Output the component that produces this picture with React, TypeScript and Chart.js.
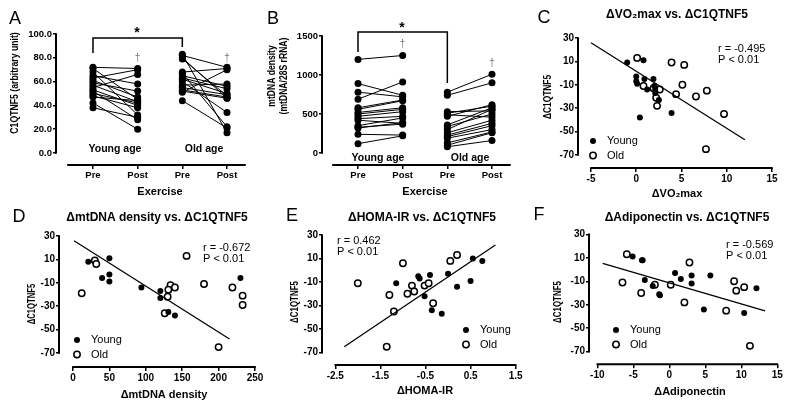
import React, { useEffect, useRef } from 'react';
import { Chart, registerables } from 'chart.js';
Chart.register(...registerables);

const FONT = "'Liberation Sans', Arial, Helvetica, sans-serif";

// ---------- Panel A: C1QTNF5 before / after exercise ----------
const exerciseLabels = ['Pre', 'Post', 'Pre', 'Post'];
const c1qTicks = [0, 20, 40, 60, 80, 100];
const c1qYoungPre = [72, 71, 68, 65, 63, 61, 59, 57, 55, 53, 52, 50, 48, 47, 42, 38];
const c1qYoungPost = [71, 45, 32, 58, 70, 47, 52, 43, 66, 40, 28, 42, 38, 44, 20, 30];
const c1qOldPre = [83, 82, 80, 79, 68, 67, 65, 63, 62, 60, 57, 55, 53, 52, 51, 44];
const c1qOldPost = [17, 72, 46, 48, 71, 22, 56, 54, 50, 34, 58, 49, 47, 46, 70, 21];

// ---------- Panel B: mtDNA density before / after exercise ----------
const mtTicks = [0, 500, 1000, 1500];
const mtYoungPre = [1200, 890, 780, 690, 580, 560, 520, 500, 470, 440, 420, 350, 330, 320, 240, 120];
const mtYoungPost = [1250, 740, 720, 910, 680, 670, 580, 560, 530, 470, 380, 450, 370, 390, 230, 220];
const mtOldPre = [780, 740, 530, 510, 490, 470, 360, 340, 300, 260, 230, 210, 190, 130, 100, 80];
const mtOldPost = [1010, 900, 540, 600, 460, 620, 580, 500, 560, 420, 380, 350, 300, 270, 260, 160];

// ---------- shared ΔC1QTNF5 axis ----------
const deltaTicks = [-70, -50, -30, -10, 10, 30];

// ---------- Panel C: ΔVO2max ----------
const vo2Ticks = [-5, 0, 5, 10, 15];
const vo2Young = [-1.0, 0.8, 0.0, 0.0, 0.1, 0.9, 1.2, 1.9, 2.0, 2.1, 2.5, 0.4, 3.9, 2.1];
const vo2YoungDC = [9, 11, -3, -7, -9, -5, -14, -5, -11, -17, -23, -38, -34, -14];
const vo2Old = [0.1, 3.9, 5.3, 0.8, 1.9, 2.6, 5.1, 4.4, 6.6, 7.8, 2.2, 2.3, 9.7, 7.7];
const vo2OldDC = [13, 9, 7, -11, -13, -14, -10, -18, -20, -15, -21, -28, -35, -65];
const vo2FitX = [-5, 12];
const vo2FitY = [26, -57];

// ---------- Panel D: ΔmtDNA density ----------
const mtdTicks = [0, 50, 100, 150, 200, 250];
const mtdYoung = [21, 50, 40, 50, 50, 94, 120, 120, 131, 140, 230];
const mtdYoungDC = [8, 11, -6, -3, -9, -14, -17, -23, -35, -38, -6];
const mtdOld = [30, 32, 12, 156, 134, 140, 131, 130, 126, 180, 219, 233, 233, 200];
const mtdOldDC = [9, 6, -19, 13, -12, -14, -16, -22, -36, -11, -14, -21, -29, -65];
const mtdFitX = [1.4, 215];
const mtdFitY = [26, -58];

// ---------- Panel E: ΔHOMA-IR ----------
const homaTicks = [-2.5, -1.5, -0.5, 0.5, 1.5];
const homaYoung = [0.55, 0.76, 0.0, 0.2, 0.5, -0.4, -0.66, -0.63, -1.15, -0.52, -0.36, -0.14];
const homaYoungDC = [10, 8, -3, -14, -9, -4, -5, -7, -11, -22, -34, -37];
const homaOld = [-1.0, 0.05, 0.2, -2.0, -1.3, -1.2, -1.36, -0.8, -0.75, -0.9, -0.52, -0.43, -0.33];
const homaOldDC = [6, 8, 13, -11, -21, -35, -65, -13, -18, -20, -13, -11, -28];
const homaFitX = [-2.3, 1.05];
const homaFitY = [-65, 21.5];

// ---------- Panel F: ΔAdiponectin ----------
const adipoTicks = [-10, -5, 0, 5, 10, 15];
const adipoYoung = [-5.1, -3.8, -3.7, -3.4, -2.3, -1.4, -1.3, 0.8, 1.6, 3.1, 3.1, 5.7, 4.8, 10.4, 12.1];
const adipoYoungDC = [11, 8, 8, -9, -14, -21, -22, -3, -8, -5, -12, -5, -34, -37, -16];
const adipoOld = [-5.9, -6.5, -3.9, -2.0, 0.2, 2.1, 2.8, 7.9, 9.0, 9.3, 10.4, 11.2];
const adipoOldDC = [13, -11, -20, -13, -13, -28, 6, -35, -10, -18, -15, -65];
const adipoFitX = [-9.25, 13.3];
const adipoFitY = [5.3, -35.3];

// ---------- dataset helpers ----------
const zip = (xs: number[], ys: number[]) => xs.map((x, i) => ({ x, y: ys[i] }));

const paired = (pre: number[], post: number[], xPre: number, xPost: number) =>
  pre.map((v, i) => ({
    data: [{ x: xPre, y: v }, { x: xPost, y: post[i] }],
    showLine: true,
    borderColor: '#000',
    borderWidth: 1,
    pointRadius: 3.5,
    pointBackgroundColor: '#000',
    pointBorderColor: '#000',
    pointBorderWidth: 0,
  }));

const youngSet = (xs: number[], ys: number[]) => ({
  data: zip(xs, ys),
  showLine: false,
  pointRadius: 3,
  pointBackgroundColor: '#000',
  pointBorderColor: '#000',
  pointBorderWidth: 0,
});
const oldSet = (xs: number[], ys: number[]) => ({
  data: zip(xs, ys),
  showLine: false,
  pointRadius: 3.2,
  pointBackgroundColor: '#fff',
  pointBorderColor: '#000',
  pointBorderWidth: 1.5,
});
const fitSet = (xs: number[], ys: number[]) => ({
  data: zip(xs, ys),
  showLine: true,
  borderColor: '#000',
  borderWidth: 1.3,
  pointRadius: 0,
});

const ROT = -Math.PI / 2;

type T = { s: string; x: number; y: number; size?: number; bold?: boolean; align?: string; base?: string; rot?: number; sx?: number; color?: string };

const scatterTexts = (o: any): T[] => [
  { s: o.letter, x: o.letterX, y: o.letterY, size: 18 },
  { s: o.title, x: o.titleX, y: o.titleY, size: 12, bold: true },
  { s: 'ΔC1QTNF5', x: o.yTitleX, y: o.yTitleY, size: 11, bold: true, rot: ROT, sx: o.ySx || 0.75 },
  { s: o.xTitle, x: o.xTitleX, y: o.xTitleY, size: 11, bold: true },
  { s: o.r, x: o.rX, y: o.rY, size: 11, align: 'left' },
  { s: 'P < 0.01', x: o.rX, y: o.rY + 11, size: 11, align: 'left' },
  { s: 'Young', x: o.legX + 14, y: o.legY, size: 11, align: 'left' },
  { s: 'Old', x: o.legX + 14, y: o.legY + 14.5, size: 11, align: 'left' },
];

const panels: any[] = [
  {
    left: 0, top: 0, w: 265, h: 207,
    area: { l: 56, t: 34, r: 245, b: 165 },
    tickSize: 9.5,
    x: { min: 0.172, max: 4.403, ticks: [1, 2, 3, 4], fmt: (v: number, i: number) => exerciseLabels[i], lineFrom: 0.44, lineTo: 4.403 },
    y: { min: -10.1, max: 100, ticks: c1qTicks, fmt: (v: number) => v.toFixed(1) },
    datasets: [...paired(c1qYoungPre, c1qYoungPost, 1, 2), ...paired(c1qOldPre, c1qOldPost, 3, 4)],
    bracket: { x1: 1, x2: 3, yTop: 96.6, yL: 84, yR: 89 },
    texts: [
      { s: 'A', x: 15, y: 19, size: 18 },
      { s: 'C1QTNF5 (arbitrary unit)', x: 15, y: 83, size: 11, bold: true, rot: ROT, sx: 0.79 },
      { s: 'Exercise', x: 160, y: 192, size: 11, bold: true },
      { s: 'Young age', x: 115, y: 149, size: 10.5, bold: true },
      { s: 'Old age', x: 204, y: 149, size: 10.5, bold: true },
      { s: '*', x: 137, y: 37, size: 14, bold: true, base: 'alphabetic' },
      { s: '†', x: 137.5, y: 61, size: 10, base: 'alphabetic', color: '#777' },
      { s: '†', x: 227, y: 61, size: 10, base: 'alphabetic', color: '#777' },
    ] as T[],
  },
  {
    left: 265, top: 0, w: 265, h: 207,
    area: { l: 57, t: 36, r: 245, b: 165 },
    tickSize: 9.5,
    x: { min: 0.194, max: 4.403, ticks: [1, 2, 3, 4], fmt: (v: number, i: number) => exerciseLabels[i], lineFrom: 0.44, lineTo: 4.403 },
    y: { min: -153.8, max: 1500, ticks: mtTicks, fmt: (v: number) => String(v) },
    datasets: [...paired(mtYoungPre, mtYoungPost, 1, 2), ...paired(mtOldPre, mtOldPost, 3, 4)],
    bracket: { x1: 1, x2: 3, yTop: 1551, yL: 1295, yR: 897 },
    texts: [
      { s: 'B', x: 8, y: 19, size: 18 },
      { s: 'mtDNA density', x: 7, y: 76, size: 11, bold: true, rot: ROT, sx: 0.78 },
      { s: '(mtDNA/28S rRNA)', x: 19, y: 76, size: 11, bold: true, rot: ROT, sx: 0.78 },
      { s: 'Exercise', x: 160, y: 192, size: 11, bold: true },
      { s: 'Young age', x: 113, y: 158, size: 10.5, bold: true },
      { s: 'Old age', x: 205, y: 158, size: 10.5, bold: true },
      { s: '*', x: 137, y: 32, size: 14, bold: true, base: 'alphabetic' },
      { s: '†', x: 137.5, y: 47, size: 10, base: 'alphabetic', color: '#777' },
      { s: '†', x: 227, y: 66, size: 10, base: 'alphabetic', color: '#777' },
    ] as T[],
  },
  {
    left: 530, top: 0, w: 264, h: 207,
    area: { l: 48, t: 38, r: 242, b: 168 },
    tickSize: 10,
    x: { min: -6.436, max: 15, ticks: vo2Ticks, fmt: (v: number) => String(v), lineFrom: -5, lineTo: 15 },
    y: { min: -81.1, max: 30, ticks: deltaTicks, fmt: (v: number) => String(v) },
    datasets: [fitSet(vo2FitX, vo2FitY), youngSet(vo2Young, vo2YoungDC), oldSet(vo2Old, vo2OldDC)],
    legend: { x: 63, y: 141 },
    texts: scatterTexts({
      letter: 'C', letterX: 14, letterY: 18, title: 'ΔVO₂max vs. ΔC1QTNF5', titleX: 147, titleY: 15,
      yTitleX: 18, yTitleY: 97, ySx: 0.76, xTitle: 'ΔVO₂max', xTitleX: 147, xTitleY: 194,
      r: 'r = -0.495', rX: 188, rY: 49, legX: 63, legY: 141,
    }),
  },
  {
    left: 0, top: 207, w: 265, h: 207,
    area: { l: 59, t: 29, r: 255, b: 160 },
    tickSize: 10,
    x: { min: -19.2, max: 250, ticks: mtdTicks, fmt: (v: number) => String(v), lineFrom: 0, lineTo: 250 },
    y: { min: -82, max: 30, ticks: deltaTicks, fmt: (v: number) => String(v) },
    datasets: [fitSet(mtdFitX, mtdFitY), youngSet(mtdYoung, mtdYoungDC), oldSet(mtdOld, mtdOldDC)],
    legend: { x: 77, y: 133 },
    texts: scatterTexts({
      letter: 'D', letterX: 19, letterY: 10, title: 'ΔmtDNA density vs. ΔC1QTNF5', titleX: 157, titleY: 11,
      yTitleX: 32, yTitleY: 97, ySx: 0.7, xTitle: 'ΔmtDNA density', xTitleX: 164, xTitleY: 188,
      r: 'r = -0.672', rX: 203, rY: 41, legX: 77, legY: 133,
    }),
  },
  {
    left: 265, top: 207, w: 265, h: 207,
    area: { l: 57, t: 28, r: 251, b: 158 },
    tickSize: 10,
    x: { min: -2.794, max: 1.5066, ticks: homaTicks, fmt: (v: number) => String(v), lineFrom: -2.5, lineTo: 1.5 },
    y: { min: -80.5, max: 30, ticks: deltaTicks, fmt: (v: number) => String(v) },
    datasets: [fitSet(homaFitX, homaFitY), youngSet(homaYoung, homaYoungDC), oldSet(homaOld, homaOldDC)],
    legend: { x: 201, y: 123 },
    texts: scatterTexts({
      letter: 'E', letterX: 27, letterY: 9, title: 'ΔHOMA-IR vs. ΔC1QTNF5', titleX: 157, titleY: 11,
      yTitleX: 30, yTitleY: 95, ySx: 0.72, xTitle: 'ΔHOMA-IR', xTitleX: 160, xTitleY: 184,
      r: 'r = 0.462', rX: 72, rY: 34, legX: 201, legY: 123,
    }),
  },
  {
    left: 530, top: 207, w: 264, h: 207,
    area: { l: 59, t: 27.3, r: 247.3, b: 157.3 },
    tickSize: 10,
    x: { min: -11.15, max: 15, ticks: adipoTicks, fmt: (v: number) => String(v), lineFrom: -10, lineTo: 15 },
    y: { min: -80.7, max: 30, ticks: deltaTicks, fmt: (v: number) => String(v) },
    datasets: [fitSet(adipoFitX, adipoFitY), youngSet(adipoYoung, adipoYoungDC), oldSet(adipoOld, adipoOldDC)],
    legend: { x: 86, y: 123 },
    texts: scatterTexts({
      letter: 'F', letterX: 9, letterY: 8, title: 'ΔAdiponectin vs. ΔC1QTNF5', titleX: 157, titleY: 11,
      yTitleX: 28, yTitleY: 95, ySx: 0.72, xTitle: 'ΔAdiponectin', xTitleX: 160, xTitleY: 185,
      r: 'r = -0.569', rX: 196, rY: 38, legX: 86, legY: 123,
    }),
  },
];

function drawText(ctx: CanvasRenderingContext2D, t: T) {
  ctx.save();
  ctx.translate(t.x, t.y);
  if (t.rot) ctx.rotate(t.rot);
  if (t.sx) ctx.scale(t.sx, 1);
  ctx.font = `${t.bold ? 'bold ' : ''}${t.size || 11}px ${FONT}`;
  ctx.fillStyle = t.color || '#000';
  ctx.textAlign = (t.align || 'center') as CanvasTextAlign;
  ctx.textBaseline = (t.base || 'middle') as CanvasTextBaseline;
  ctx.fillText(t.s, 0, 0);
  ctx.restore();
}

function drawExtras(chart: any, s: any) {
  const ctx: CanvasRenderingContext2D = chart.ctx;
  const ca = chart.chartArea;
  const xs = chart.scales.x;
  const ys = chart.scales.y;
  ctx.save();
  ctx.strokeStyle = '#000';
  ctx.lineWidth = 2;
  ctx.lineCap = 'butt';
  const yt = s.y.ticks;
  ctx.beginPath();
  ctx.moveTo(ca.left, ys.getPixelForValue(yt[0]) + 0.75);
  ctx.lineTo(ca.left, ys.getPixelForValue(yt[yt.length - 1]) - 0.75);
  ctx.moveTo(xs.getPixelForValue(s.x.lineFrom) - 0.75, ca.bottom);
  ctx.lineTo(xs.getPixelForValue(s.x.lineTo) + 0.75, ca.bottom);
  ctx.stroke();

  if (s.bracket) {
    const b = s.bracket;
    ctx.lineWidth = 1.5;
    ctx.beginPath();
    ctx.moveTo(xs.getPixelForValue(b.x1), ys.getPixelForValue(b.yL));
    ctx.lineTo(xs.getPixelForValue(b.x1), ys.getPixelForValue(b.yTop));
    ctx.lineTo(xs.getPixelForValue(b.x2), ys.getPixelForValue(b.yTop));
    ctx.lineTo(xs.getPixelForValue(b.x2), ys.getPixelForValue(b.yR));
    ctx.stroke();
  }

  if (s.legend) {
    const { x, y } = s.legend;
    ctx.fillStyle = '#000';
    ctx.beginPath();
    ctx.arc(x, y, 3, 0, Math.PI * 2);
    ctx.fill();
    ctx.beginPath();
    ctx.arc(x, y + 14.5, 3.2, 0, Math.PI * 2);
    ctx.fillStyle = '#fff';
    ctx.fill();
    ctx.lineWidth = 1.5;
    ctx.strokeStyle = '#000';
    ctx.stroke();
  }

  s.texts.forEach((t: T) => drawText(ctx, t));
  ctx.restore();
}

function buildConfig(s: any): any {
  const a = s.area;
  const tickFont = { family: FONT, size: s.tickSize, weight: 'bold' };
  const grid = { display: true, drawOnChartArea: false, drawTicks: true, tickLength: 4, color: '#000', lineWidth: 1.5 };
  return {
    type: 'scatter',
    data: { datasets: s.datasets },
    options: {
      responsive: false,
      maintainAspectRatio: false,
      animation: false,
      events: [],
      layout: { padding: { left: 0, top: a.t, right: s.w - a.r, bottom: 0 } },
      plugins: { legend: { display: false }, tooltip: { enabled: false }, title: { display: false } },
      scales: {
        x: {
          type: 'linear',
          position: 'bottom',
          min: s.x.min,
          max: s.x.max,
          afterBuildTicks: (sc: any) => { sc.ticks = s.x.ticks.map((v: number) => ({ value: v })); },
          afterFit: (sc: any) => { sc.height = s.h - a.b; },
          border: { display: false },
          grid,
          ticks: {
            autoSkip: false, maxRotation: 0, minRotation: 0, padding: 1, color: '#000', font: tickFont,
            callback: (v: number, i: number) => s.x.fmt(v, i),
          },
        },
        y: {
          type: 'linear',
          position: 'left',
          min: s.y.min,
          max: s.y.max,
          afterBuildTicks: (sc: any) => { sc.ticks = s.y.ticks.map((v: number) => ({ value: v })); },
          afterFit: (sc: any) => { sc.width = a.l; },
          border: { display: false },
          grid: { ...grid, tickLength: 3 },
          ticks: {
            autoSkip: false, padding: 1, color: '#000', font: tickFont,
            callback: (v: number, i: number) => s.y.fmt(v, i),
          },
        },
      },
    },
    plugins: [{ id: 'prismExtras', afterDraw: (chart: any) => drawExtras(chart, s) }],
  };
}

function ChartPanel({ spec }: { spec: any }) {
  const ref = useRef<HTMLCanvasElement>(null);
  useEffect(() => {
    const chart = new Chart(ref.current as HTMLCanvasElement, buildConfig(spec));
    return () => chart.destroy();
  }, [spec]);
  return (
    <canvas
      ref={ref}
      width={spec.w}
      height={spec.h}
      style={{ position: 'absolute', left: spec.left, top: spec.top, width: spec.w, height: spec.h }}
    />
  );
}

export default function App() {
  return (
    <div style={{ position: 'fixed', left: 0, top: 0, width: 794, height: 414, background: '#fff', overflow: 'hidden' }}>
      {panels.map((p, i) => (
        <ChartPanel key={i} spec={p} />
      ))}
    </div>
  );
}
